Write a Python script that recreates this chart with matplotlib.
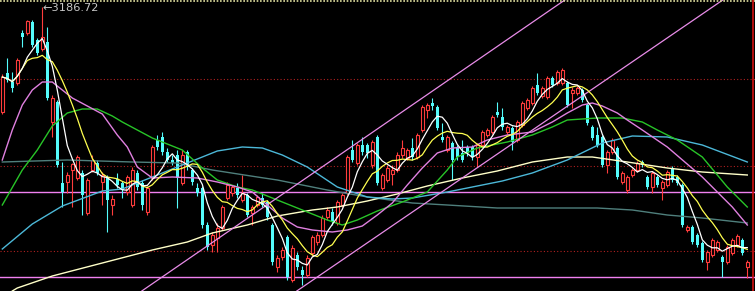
import matplotlib
matplotlib.use("Agg")
import matplotlib.pyplot as plt
import pandas as pd

# daily candles
opens = [2976, 3054, 3036, 3034, 3134, 3134, 3156, 3120, 3102, 3116,
         2956, 2996, 2834, 2836, 2860, 2844, 2854, 2774, 2860, 2874,
         2836, 2846, 2790, 2842, 2834, 2816, 2790, 2854, 2834, 2776,
         2844, 2920, 2926, 2896, 2880, 2890, 2834, 2896, 2860, 2824,
         2824, 2750, 2710, 2724, 2744, 2804, 2814, 2824, 2800, 2810,
         2774, 2790, 2804, 2796, 2750, 2666, 2686, 2726, 2640, 2690,
         2660, 2650, 2694, 2716, 2730, 2766, 2776, 2754, 2790, 2814,
         2900, 2874, 2910, 2910, 2870, 2926, 2824, 2840, 2852, 2860,
         2890, 2884, 2904, 2886, 2940, 2980, 2994, 2986, 2926, 2900,
         2914, 2906, 2894, 2906, 2906, 2886, 2910, 2930, 2936, 2976,
         2966, 2936, 2944, 2920, 2950, 2984, 2994, 3030, 3008, 3006,
         3044, 3034, 3034, 3034, 3014, 3014, 3020, 2990, 2946, 2930,
         2926, 2870, 2896, 2904, 2836, 2820, 2850, 2860, 2876, 2846,
         2826, 2846, 2824, 2830, 2864, 2846, 2830, 2740, 2746, 2730,
         2714, 2676, 2690, 2700, 2686, 2676, 2694, 2710, 2720, 2666]
closes = [3046, 3040, 3024, 3080, 3126, 3158, 3110, 3094, 3126, 3004,
          3004, 2870, 2816, 2850, 2872, 2886, 2810, 2840, 2880, 2854,
          2850, 2800, 2802, 2830, 2820, 2846, 2860, 2826, 2790, 2824,
          2906, 2906, 2896, 2880, 2874, 2844, 2890, 2866, 2836, 2814,
          2750, 2706, 2730, 2744, 2786, 2830, 2826, 2810, 2814, 2770,
          2786, 2806, 2790, 2766, 2676, 2684, 2700, 2646, 2704, 2666,
          2650, 2684, 2726, 2730, 2764, 2780, 2756, 2796, 2810, 2886,
          2880, 2910, 2896, 2894, 2916, 2834, 2850, 2864, 2860, 2890,
          2904, 2900, 2886, 2930, 2986, 2990, 2988, 2944, 2920, 2926,
          2880, 2886, 2880, 2894, 2886, 2910, 2936, 2940, 2966, 2970,
          2946, 2946, 2916, 2956, 2994, 3000, 3024, 3014, 3024, 3044,
          3030, 3056, 3060, 2990, 3020, 3024, 3000, 2954, 2924, 2910,
          2870, 2896, 2920, 2846, 2854, 2846, 2860, 2874, 2870, 2826,
          2854, 2830, 2836, 2856, 2840, 2834, 2750, 2746, 2716, 2710,
          2680, 2696, 2720, 2716, 2676, 2706, 2720, 2728, 2694, 2676]
highs = [3052, 3084, 3056, 3084, 3140, 3160, 3160, 3124, 3186.72, 3146,
         3010, 3000, 2876, 2856, 2874, 2890, 2860, 2844, 2890, 2880,
         2856, 2850, 2810, 2854, 2838, 2850, 2866, 2860, 2840, 2828,
         2910, 2930, 2936, 2904, 2890, 2900, 2900, 2900, 2864, 2834,
         2828, 2756, 2736, 2754, 2790, 2836, 2830, 2834, 2850, 2814,
         2790, 2810, 2814, 2800, 2754, 2690, 2706, 2730, 2710, 2696,
         2668, 2690, 2730, 2736, 2770, 2786, 2784, 2800, 2814, 2890,
         2920, 2914, 2926, 2914, 2920, 2930, 2854, 2870, 2870, 2896,
         2920, 2904, 2924, 2934, 2990, 2994, 3004, 2990, 2954, 2930,
         2918, 2910, 2920, 2910, 2910, 2914, 2940, 2944, 2970, 2996,
         2984, 2950, 2948, 2960, 2998, 3004, 3028, 3054, 3028, 3048,
         3048, 3060, 3064, 3038, 3026, 3028, 3024, 2994, 2950, 2946,
         2930, 2900, 2924, 2908, 2858, 2850, 2864, 2878, 2880, 2850,
         2858, 2850, 2840, 2860, 2868, 2850, 2834, 2750, 2750, 2734,
         2718, 2700, 2724, 2720, 2690, 2710, 2724, 2732, 2724, 2680]
lows = [2972, 3036, 3016, 3030, 3106, 3130, 3106, 3090, 3098, 3000,
        2926, 2866, 2786, 2814, 2786, 2840, 2770, 2770, 2856, 2850,
        2790, 2736, 2770, 2824, 2804, 2810, 2786, 2820, 2780, 2770,
        2840, 2900, 2890, 2876, 2870, 2784, 2830, 2860, 2830, 2808,
        2744, 2700, 2696, 2696, 2740, 2800, 2808, 2804, 2796, 2766,
        2750, 2786, 2786, 2760, 2670, 2656, 2680, 2640, 2636, 2660,
        2630, 2646, 2688, 2710, 2726, 2760, 2750, 2750, 2786, 2810,
        2876, 2870, 2890, 2884, 2864, 2830, 2820, 2836, 2830, 2856,
        2884, 2880, 2880, 2882, 2936, 2964, 2980, 2940, 2916, 2896,
        2840, 2880, 2876, 2888, 2880, 2866, 2906, 2926, 2932, 2966,
        2940, 2932, 2900, 2916, 2946, 2980, 2990, 3010, 3004, 3002,
        3026, 3030, 3030, 2986, 2984, 3010, 2996, 2950, 2920, 2906,
        2866, 2854, 2892, 2842, 2832, 2814, 2846, 2856, 2866, 2822,
        2814, 2826, 2800, 2826, 2836, 2830, 2746, 2736, 2712, 2706,
        2676, 2660, 2686, 2696, 2646, 2672, 2690, 2706, 2690, 2644]

# longer averages, read at sample candles (index, value)
ma20_i = [0, 2, 4, 6, 8, 10, 12, 14, 17, 20, 23, 25, 27, 30, 34, 39, 43, 47, 50, 53,
          56, 59, 62, 66, 69, 72, 75, 78, 81, 84, 87, 90, 94, 97, 101, 106, 110, 113,
          116, 118, 120, 123, 125, 128, 133, 140, 146, 149]
ma20_v = [2880, 2940, 2990, 3020, 3036, 3036, 3020, 3004, 2988, 2972, 2930, 2906, 2866,
          2844, 2846, 2844, 2836, 2826, 2816, 2790, 2764, 2746, 2740, 2736, 2740, 2748,
          2770, 2794, 2830, 2864, 2894, 2904, 2906, 2920, 2930, 2936, 2956, 2974, 2990,
          2994, 2988, 2974, 2960, 2940, 2906, 2846, 2786, 2750]
ma30_i = [0, 4, 7, 10, 13, 16, 19, 22, 24, 30, 36, 40, 43, 47, 50, 55, 61, 65, 68, 71,
          75, 80, 85, 89, 91, 95, 101, 106, 110, 113, 119, 124, 128, 131, 135, 140, 145, 149]
ma30_v = [2790, 2860, 2900, 2948, 2974, 2982, 2982, 2968, 2956, 2924, 2900, 2864, 2840,
          2826, 2820, 2800, 2776, 2760, 2750, 2760, 2778, 2796, 2816, 2860, 2886, 2904,
          2916, 2930, 2946, 2960, 2964, 2964, 2956, 2940, 2920, 2886, 2826, 2786]
ma60_i = [0, 6, 12, 20, 24, 30, 37, 43, 48, 52, 56, 61, 67, 73, 78, 82, 89, 96, 100,
          106, 113, 120, 126, 133, 140, 149]
ma60_v = [2702, 2752, 2788, 2818, 2822, 2846, 2874, 2898, 2906, 2904, 2890, 2866, 2826,
          2806, 2802, 2804, 2816, 2830, 2838, 2854, 2880, 2914, 2928, 2926, 2910, 2876]
ma120_i = [2, 3, 10, 20, 30, 37, 42, 49, 55, 62, 67, 73, 79, 85, 92, 99, 106, 113, 118,
           125, 133, 140, 149]
ma120_v = [2618, 2624, 2648, 2674, 2700, 2716, 2734, 2750, 2768, 2780, 2786, 2798, 2812,
           2828, 2844, 2858, 2876, 2886, 2886, 2876, 2864, 2856, 2850]
ma250_i = [0, 13, 26, 35, 42, 51, 55, 65, 73, 82, 89, 99, 110, 119, 126, 133, 140, 149]
ma250_v = [2876, 2880, 2876, 2874, 2860, 2846, 2840, 2820, 2806, 2794, 2790, 2784, 2784,
           2784, 2780, 2770, 2764, 2754]

# drawn channel, two parallel trend lines
chan1_x = [27.9, 112.5]
chan2_x = [58.9, 144.1]
chan_y = [2618, 3200]

dotted_levels = [3042, 2868, 2698]
solid_levels = [2816, 2646]
peak = 3186.72

RED = "#ff3c3c"
CYAN = "#54fcfc"

fig = plt.figure(figsize=(7.55, 2.91), dpi=100, facecolor="black")
ax = fig.add_axes([0, 0, 1, 1])
ax.set_axis_off()
ax.set_xlim(-0.46, 150.54)
ax.set_ylim(2618, 3200)

df = pd.DataFrame({"o": opens, "h": highs, "l": lows, "c": closes})
up = df[df.c >= df.o]
dn = df[df.c < df.o]

for lvl in dotted_levels:
    ax.axhline(lvl, color="#b02020", lw=0.8, ls=(0, (1, 2)), zorder=1)
for lvl in solid_levels:
    ax.axhline(lvl, color="#f080f0", lw=1.0, zorder=1)

ax.vlines(up.index, up.l, up.h, color=RED, lw=0.8, zorder=2)
ax.vlines(dn.index, dn.l, dn.h, color=CYAN, lw=0.8, zorder=2)
ax.bar(up.index, up.c - up.o, bottom=up.o, width=0.55, facecolor="black",
       edgecolor=RED, lw=0.8, zorder=3)
ax.bar(dn.index, dn.o - dn.c, bottom=dn.c, width=0.65, color=CYAN, lw=0, zorder=3)

ma5 = df.c.rolling(5, min_periods=1).mean()
ma10 = df.c.rolling(10, min_periods=1).mean()

ax.plot(ma250_i, ma250_v, color="#4f7f7c", lw=1.0, zorder=4)
ax.plot(ma120_i, ma120_v, color="#ffffc8", lw=1.0, zorder=4)
ax.plot(ma60_i, ma60_v, color="#4cb8d8", lw=1.0, zorder=4)
ax.plot(ma30_i, ma30_v, color="#28c428", lw=1.0, zorder=4)
ax.plot(ma20_i, ma20_v, color="#e080e0", lw=1.0, zorder=4)
ax.plot(df.index, ma10, color="#ffff50", lw=0.9, zorder=5)
ax.plot(df.index, ma5, color="white", lw=0.9, zorder=5)

ax.plot(chan1_x, chan_y, color="#e88ce8", lw=0.9, zorder=4)
ax.plot(chan2_x, chan_y, color="#e88ce8", lw=0.9, zorder=4)

ax.text(8.1, peak - 3, "\u2190" + f"{peak:.2f}", color="#c8c8c8", fontsize=8.2,
        ha="left", va="center", zorder=6)

# frame bits of the trading window
ax.plot([0, 1], [0.997, 0.997], transform=ax.transAxes, color="#e0e0a0",
        lw=1.2, ls=(0, (1, 1)), zorder=6)
ax.plot([0.9974, 0.9974], [0, 1], transform=ax.transAxes, color="#d01010",
        lw=1.2, zorder=6)

fig.savefig("out.png", dpi=100, facecolor="black")
